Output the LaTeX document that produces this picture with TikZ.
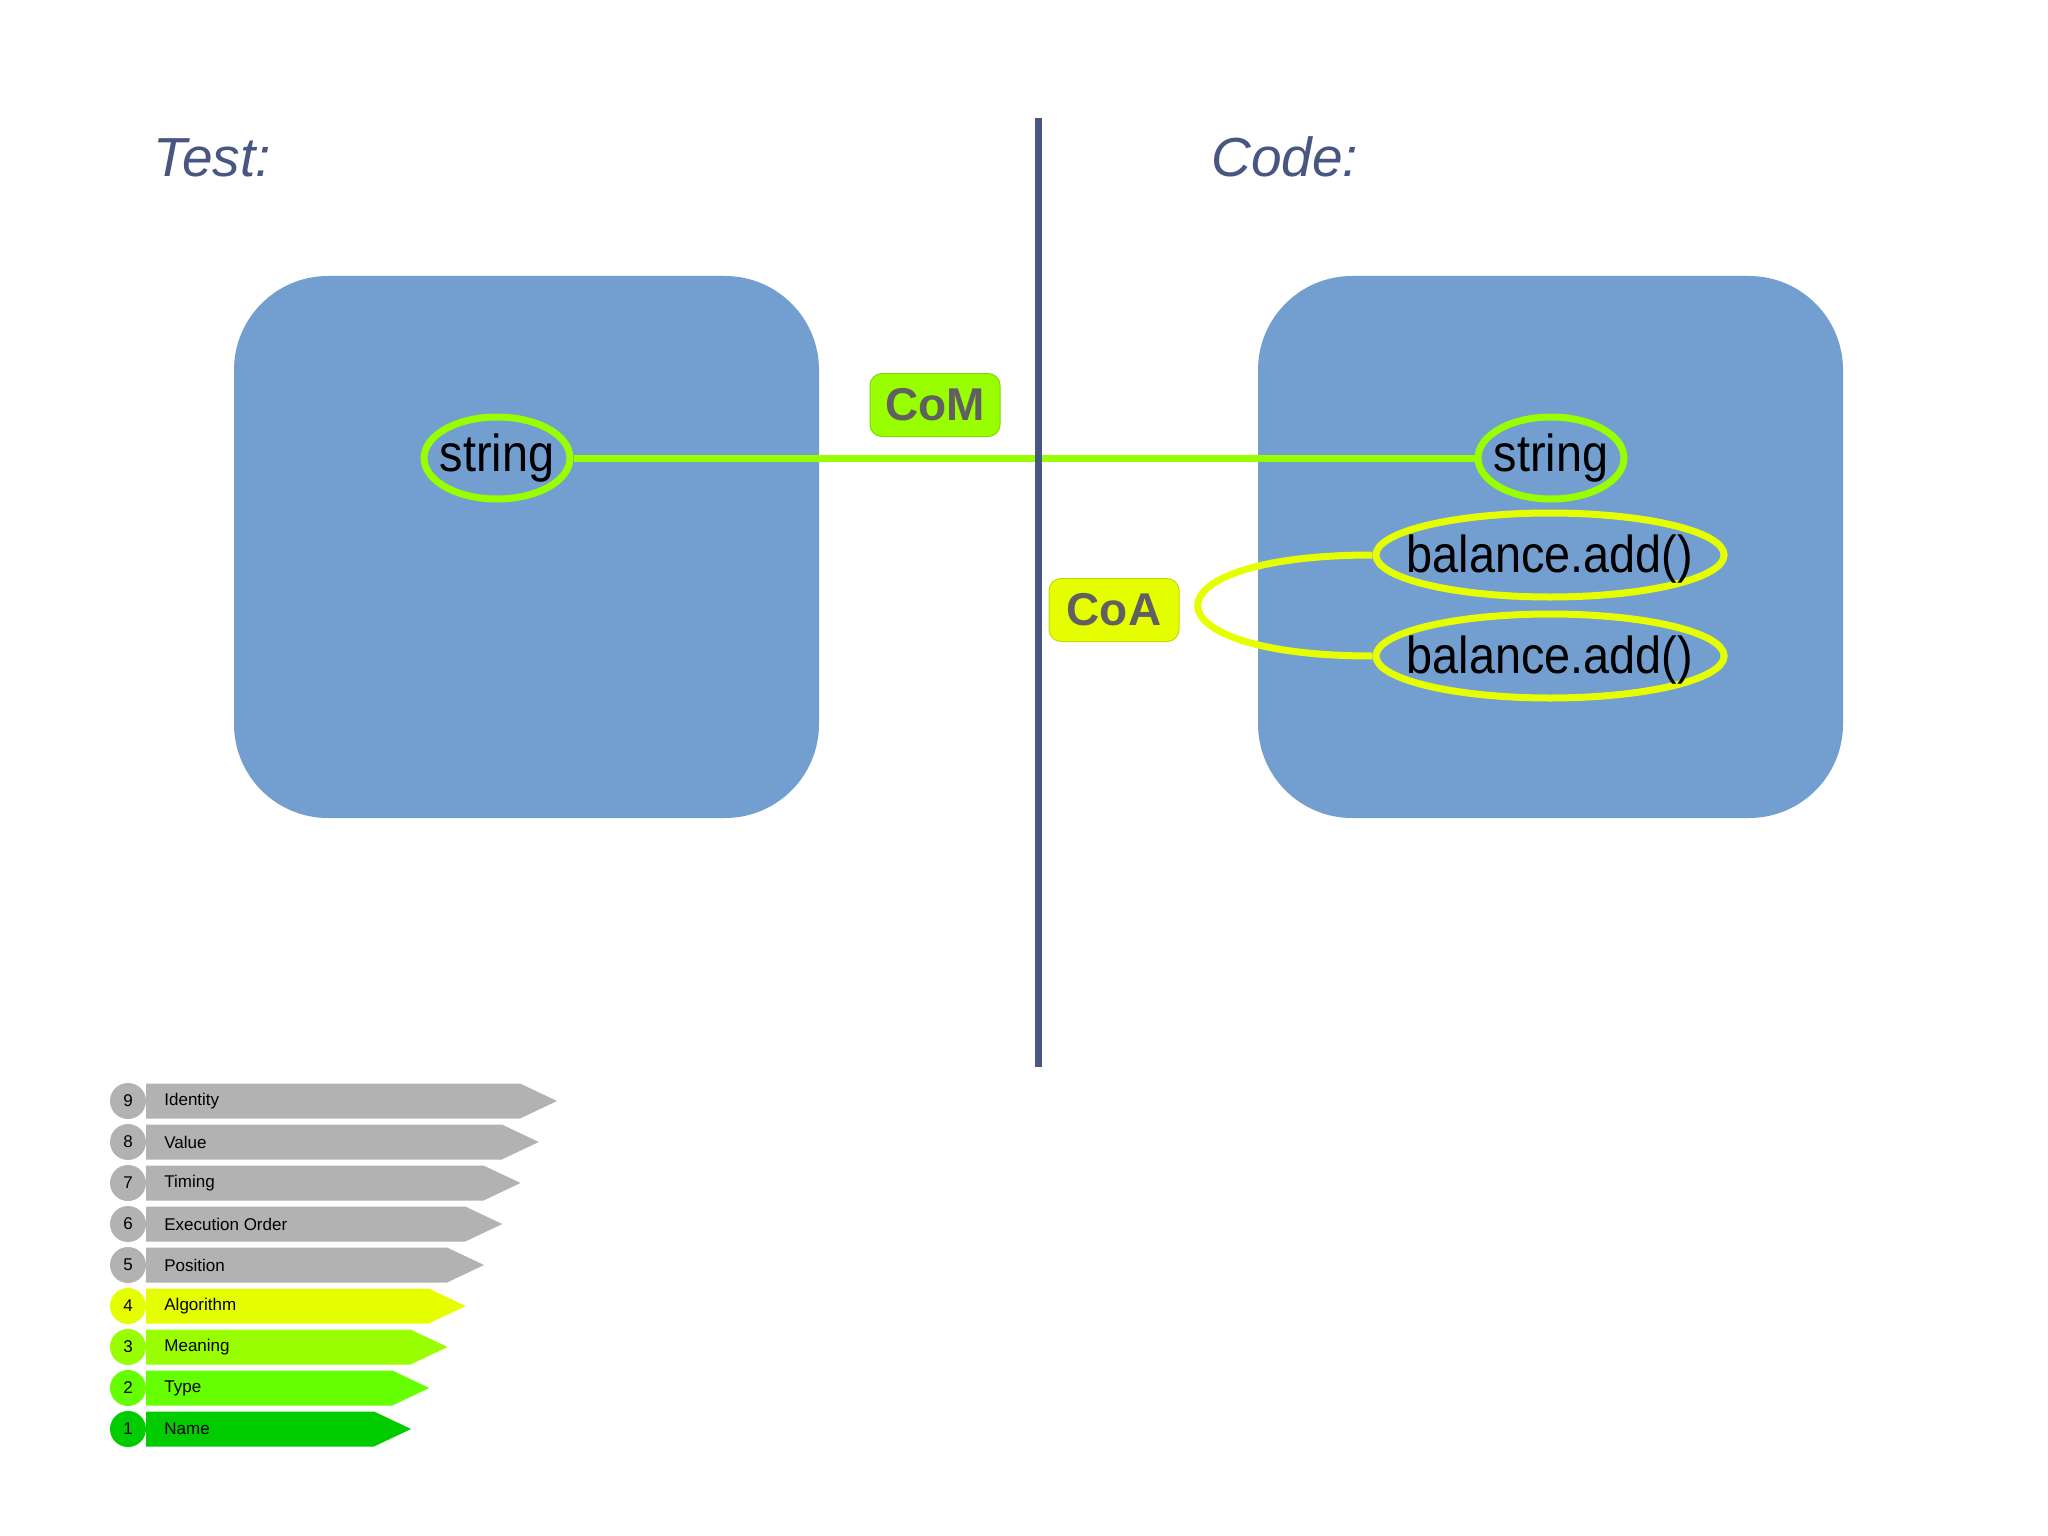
\documentclass[tikz,border=0pt]{standalone}
\usepackage{fontspec}
\setmainfont{Liberation Sans}
\newfontfamily\bigfont[FakeStretch=0.9]{Liberation Sans}
\usetikzlibrary{shapes.geometric}

\definecolor{boxblue}{RGB}{114,159,207}
\definecolor{slate}{RGB}{72,86,130}
\definecolor{linkgreen}{RGB}{153,255,0}
\definecolor{linkyellow}{RGB}{230,255,0}
\definecolor{levelgray}{RGB}{178,178,178}
\definecolor{typegreen}{RGB}{102,255,0}
\definecolor{namegreen}{RGB}{0,204,0}
\definecolor{labelgray}{RGB}{96,96,96}

\tikzset{
    box/.style={rectangle,rounded corners=47pt,fill=boxblue,
        minimum width=292.5pt,minimum height=271pt},
    term/.style={ellipse,draw=#1,line width=3.5pt,inner ysep=0pt,
        font=\bigfont\fontsize{26}{30}\selectfont},
    tag/.style={rectangle,rounded corners=6pt,draw=#1!85!black,line width=0.5pt,
        fill=#1,text=labelgray,font=\bfseries\fontsize{23}{26}\selectfont,
        minimum width=65pt,minimum height=31.5pt,inner sep=0pt},
    title/.style={anchor=base west,inner sep=0pt,text=slate,
        font=\itshape\fontsize{27.5}{30}\selectfont},
    level/.style={circle,fill=#1,minimum size=18pt,inner sep=0pt,
        font=\fontsize{8.5}{10}\selectfont},
    link/.style={draw=#1,line width=3.5pt}
}

\begin{document}
\begin{tikzpicture}[x=0.5pt,y=-0.5pt]
    \useasboundingbox[fill=white] (0,0) rectangle (2048,1535);
    % the two sides
    \node[box] (testbox) at (526.5,547) {};
    \node[box] (codebox) at (1550.5,547) {};
    \node[title] (testlbl) at (153,177) {Test:};
    \node[title] (codelbl) at (1211,177) {Code:};
    % terms
    \node[term=linkgreen,inner xsep=-3pt,minimum width=73pt,minimum height=41pt] (str1) at (497,458) {string};
    \node[term=linkgreen,inner xsep=-3pt,minimum width=73pt,minimum height=41pt] (str2) at (1551,458) {string};
    \node[term=linkyellow,inner xsep=-10pt,text depth=1pt,minimum width=173pt,minimum height=42pt] (add1) at (1550,555) {balance.add()};
    \node[term=linkyellow,inner xsep=-10pt,text depth=1pt,minimum width=173pt,minimum height=42pt] (add2) at (1550,656) {balance.add()};
    % connascence
    \draw[link=linkgreen] (str1) -- (str2);
    \draw[link=linkyellow] (add1.west) .. controls +(-233,0) and +(-233,0) .. (add2.west);
    \coordinate (divtop) at (1038,118);
    \coordinate (divbot) at (1038,1067);
    \draw[slate,line width=3.5pt] (divtop) -- (divbot);
    \node[tag=linkgreen] (com) at (935,405) {CoM};
    \node[tag=linkyellow] (coa) at (1114,610) {CoA};
    % legend
    \foreach \n/\lbl/\col [count=\i from 0] in {9/Identity/levelgray,8/Value/levelgray,
            7/Timing/levelgray,6/Execution Order/levelgray,5/Position/levelgray,
            4/Algorithm/linkyellow,3/Meaning/linkgreen,2/Type/typegreen,1/Name/namegreen}{
        \pgfmathsetmacro\ry{1101+41*\i}
        \pgfmathsetmacro\tip{557-18.25*\i}
        \fill[\col] (146,\ry-17.5) -- (\tip-37,\ry-17.5) -- (\tip,\ry)
            -- (\tip-37,\ry+17.5) -- (146,\ry+17.5) -- cycle;
        \node[level=\col] (lvl\n) at (128,\ry) {\n};
        \node[anchor=west,inner sep=0pt,font=\fontsize{8.5}{10}\selectfont] (lbl\n) at (164,\ry) {\lbl};
    }
\end{tikzpicture}
\end{document}
